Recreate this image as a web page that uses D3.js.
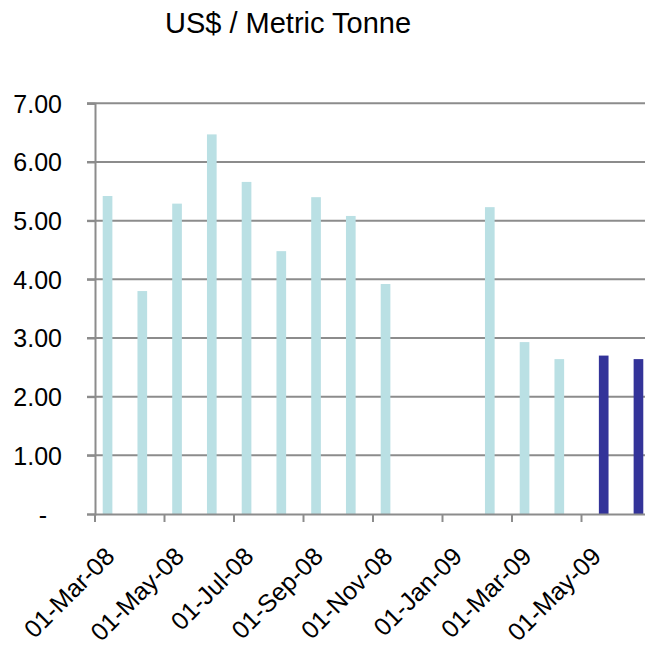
<!DOCTYPE html>
<html><head><meta charset="utf-8">
<script src="https://cdn.jsdelivr.net/npm/d3@7/dist/d3.min.js"></script>
<style>html,body{margin:0;padding:0;background:#fff}svg{display:block}</style>
</head><body>
<script>
const months = ["01-Mar-08","01-Apr-08","01-May-08","01-Jun-08","01-Jul-08","01-Aug-08","01-Sep-08","01-Oct-08","01-Nov-08","01-Dec-08","01-Jan-09","01-Feb-09","01-Mar-09","01-Apr-09","01-May-09","01-Jun-09"];
const actualValues = [5.42,3.80,5.29,6.47,5.66,4.48,5.40,5.08,3.92,null,null,5.23,2.93,2.64,null,null];
const recentValues = [null,null,null,null,null,null,null,null,null,null,null,null,null,null,2.70,2.64];
const tickLabels = ["01-Mar-08","01-May-08","01-Jul-08","01-Sep-08","01-Nov-08","01-Jan-09","01-Mar-09","01-May-09"];
const yTicks = [0,1,2,3,4,5,6,7];
const seriesNames = ["actual","recent"];
const seriesColors = {actual:"#BAE0E4", recent:"#333399"};

const W=645,H=647;
const svg=d3.select("body").append("svg").attr("width",W).attr("height",H);
const plotLeft=95, plotBottom=514, plotTop=103.3;
const x=d3.scaleBand().domain(months).range([plotLeft,plotLeft+16*34.75]).paddingInner(0).paddingOuter(0);
const bw=x.bandwidth();
const xs=d3.scaleBand().domain(seriesNames).range([bw*0.222,bw*0.778]);
const y=d3.scaleLinear().domain([0,7]).range([plotBottom,plotTop]);
const gridColor="#8c8c8c";

// gridlines
svg.append("g").selectAll("line").data(yTicks.filter(d=>d>0)).join("line")
  .attr("x1",plotLeft-8).attr("x2",W).attr("y1",d=>y(d)).attr("y2",d=>y(d))
  .attr("stroke",gridColor).attr("stroke-width",2);

// bars
const rows=months.map((m,i)=>({m,actual:actualValues[i],recent:recentValues[i]}));
const bars=[];
rows.forEach(r=>seriesNames.forEach(s=>{ if(r[s]!=null) bars.push({m:r.m,s,v:r[s]}); }));
svg.append("g").selectAll("rect").data(bars).join("rect")
  .attr("x",d=>x(d.m)+xs(d.s)).attr("width",xs.bandwidth())
  .attr("y",d=>y(d.v)).attr("height",d=>y(0)-y(d.v))
  .attr("fill",d=>seriesColors[d.s]);

// y axis
const yAxis=svg.append("g").attr("transform",`translate(${plotLeft},0)`)
  .call(d3.axisLeft(y).tickValues(yTicks).tickSize(8).tickFormat(d=>d===0?"-":d3.format(".2f")(d)));
yAxis.select(".domain").attr("stroke",gridColor).attr("stroke-width",2);
yAxis.selectAll(".tick line").attr("stroke",gridColor).attr("stroke-width",2);
yAxis.selectAll(".tick text").attr("font-family","Liberation Sans, Arial, sans-serif").attr("font-size",25).attr("fill","#000")
  .attr("x",d=>d===0?-48:-33).attr("dy","0.36em");

// x axis
const xAxis=svg.append("g").attr("transform",`translate(0,${plotBottom})`)
  .call(d3.axisBottom(x).tickValues(tickLabels).tickSize(8).tickSizeOuter(0));
xAxis.selectAll(".tick").attr("transform",d=>`translate(${x(d)},0)`);
xAxis.select(".domain").attr("stroke",gridColor).attr("stroke-width",2);
xAxis.selectAll(".tick line").attr("stroke",gridColor).attr("stroke-width",2);
xAxis.selectAll(".tick text").attr("font-family","Liberation Sans, Arial, sans-serif").attr("font-size",25).attr("fill","#000")
  .attr("text-anchor","end").attr("y",0).attr("dy",0)
  .attr("transform","translate(21,44) rotate(-45)");

// title
svg.append("text").attr("x",288).attr("y",33).attr("text-anchor","middle")
  .attr("font-family","Liberation Sans, Arial, sans-serif").attr("font-size",29).attr("fill","#000")
  .text("US$ / Metric Tonne");
</script>
</body></html>
